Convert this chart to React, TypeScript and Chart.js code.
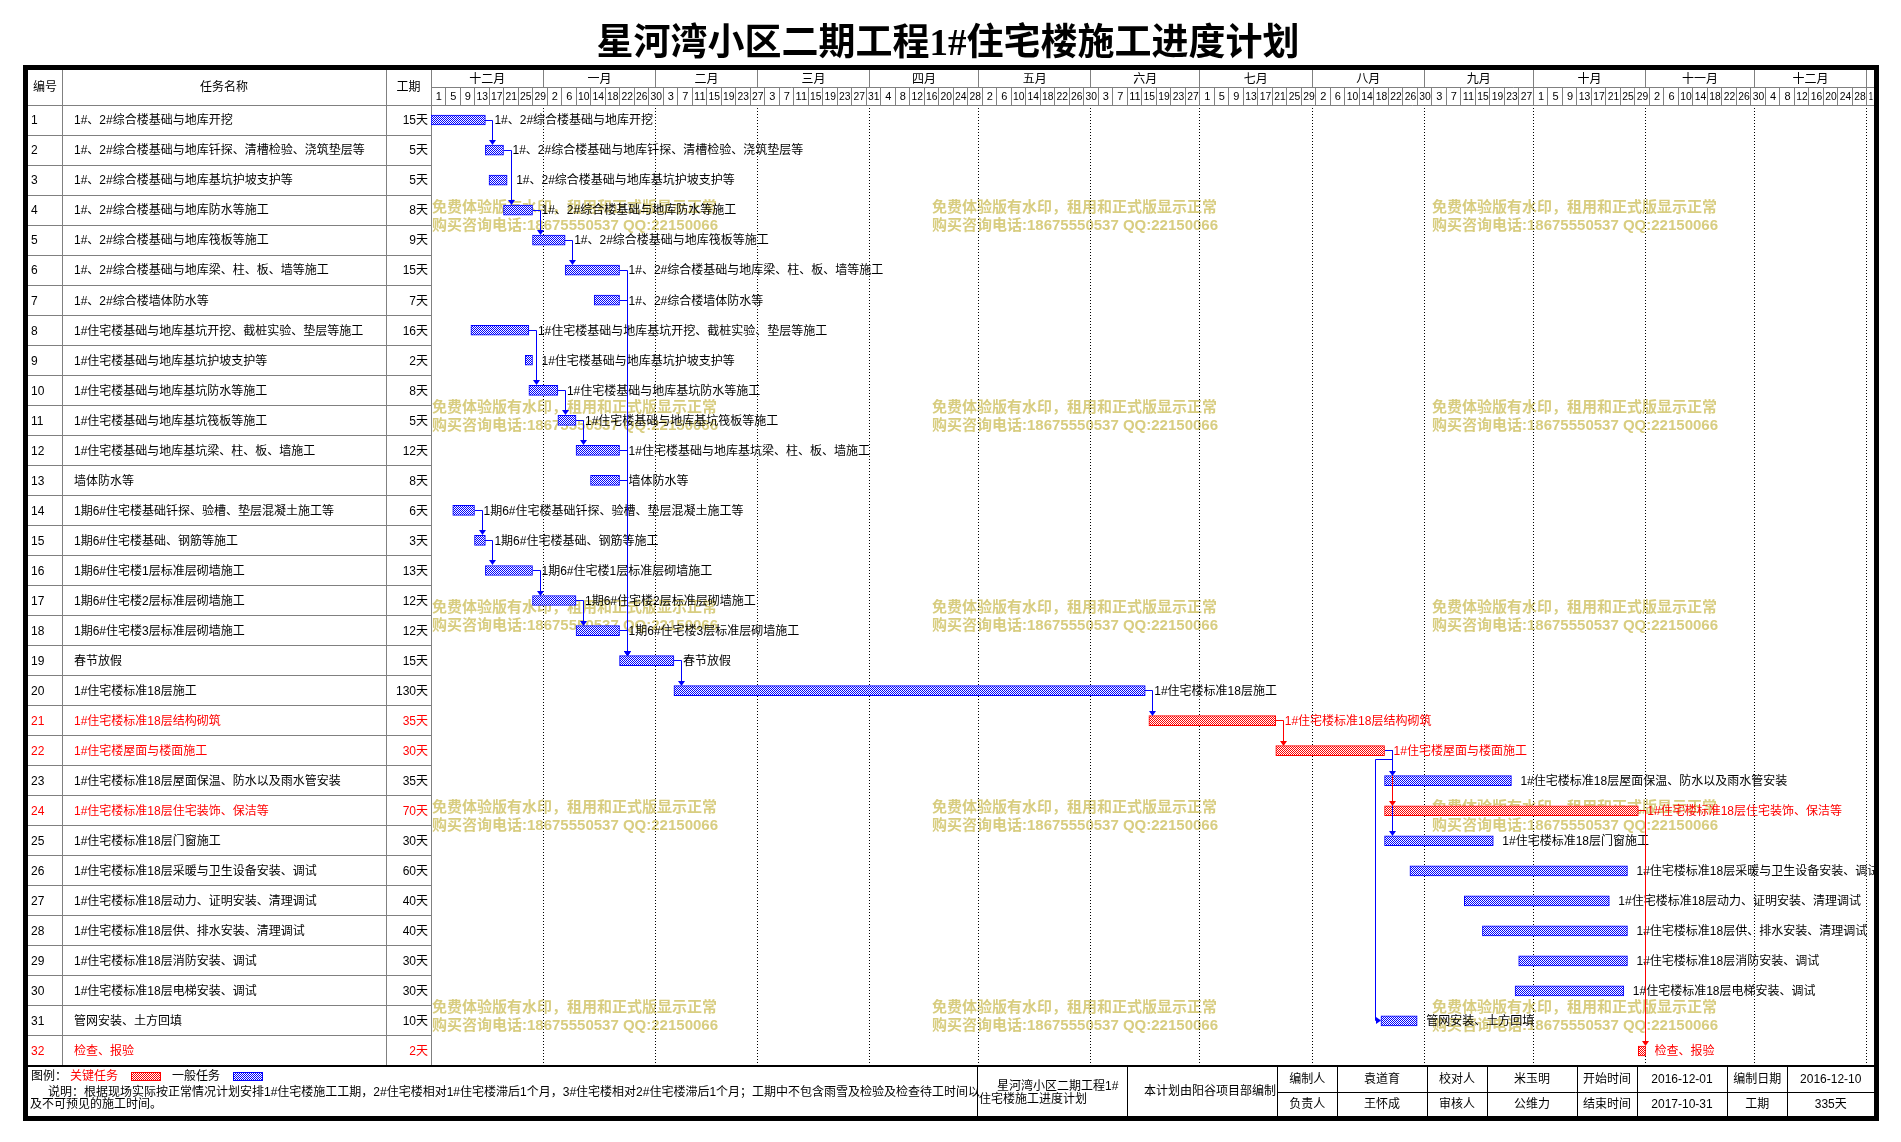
import { useEffect, useRef } from 'react';
import { Chart, registerables } from 'chart.js';

Chart.register(...registerables);

// ---------------- data ----------------
const titleText = '星河湾小区二期工程1#住宅楼施工进度计划';
const headerLabels = ['编号', '任务名称', '工期'];

const taskIds = ['1','2','3','4','5','6','7','8','9','10','11','12','13','14','15','16','17','18','19','20','21','22','23','24','25','26','27','28','29','30','31','32'];

const taskNames = [
  '1#、2#综合楼基础与地库开挖',
  '1#、2#综合楼基础与地库钎探、清槽检验、浇筑垫层等',
  '1#、2#综合楼基础与地库基坑护坡支护等',
  '1#、2#综合楼基础与地库防水等施工',
  '1#、2#综合楼基础与地库筏板等施工',
  '1#、2#综合楼基础与地库梁、柱、板、墙等施工',
  '1#、2#综合楼墙体防水等',
  '1#住宅楼基础与地库基坑开挖、截桩实验、垫层等施工',
  '1#住宅楼基础与地库基坑护坡支护等',
  '1#住宅楼基础与地库基坑防水等施工',
  '1#住宅楼基础与地库基坑筏板等施工',
  '1#住宅楼基础与地库基坑梁、柱、板、墙施工',
  '墙体防水等',
  '1期6#住宅楼基础钎探、验槽、垫层混凝土施工等',
  '1期6#住宅楼基础、钢筋等施工',
  '1期6#住宅楼1层标准层砌墙施工',
  '1期6#住宅楼2层标准层砌墙施工',
  '1期6#住宅楼3层标准层砌墙施工',
  '春节放假',
  '1#住宅楼标准18层施工',
  '1#住宅楼标准18层结构砌筑',
  '1#住宅楼屋面与楼面施工',
  '1#住宅楼标准18层屋面保温、防水以及雨水管安装',
  '1#住宅楼标准18层住宅装饰、保洁等',
  '1#住宅楼标准18层门窗施工',
  '1#住宅楼标准18层采暖与卫生设备安装、调试',
  '1#住宅楼标准18层动力、证明安装、清理调试',
  '1#住宅楼标准18层供、排水安装、清理调试',
  '1#住宅楼标准18层消防安装、调试',
  '1#住宅楼标准18层电梯安装、调试',
  '管网安装、土方回填',
  '检查、报验',
];

const durationLabels = ['15天','5天','5天','8天','9天','15天','7天','16天','2天','8天','5天','12天','8天','6天','3天','13天','12天','12天','15天','130天','35天','30天','35天','70天','30天','60天','40天','40天','30天','30天','10天','2天'];

// start day counted from 2016-12-01 (day 0)
const startDays = [0, 15, 16, 20, 28, 37, 45, 11, 26, 27, 35, 40, 44, 6, 12, 15, 28, 40, 52, 67, 198, 233, 263, 263, 263, 270, 285, 290, 300, 299, 262, 333];
const durationDays = [15, 5, 5, 8, 9, 15, 7, 16, 2, 8, 5, 12, 8, 6, 3, 13, 12, 12, 15, 130, 35, 30, 35, 70, 30, 60, 40, 40, 30, 30, 10, 2];
const criticalTaskIds = ['21', '22', '24', '32'];

const links: [string, string][] = [
  ['1', '2'], ['2', '4'], ['4', '5'], ['5', '6'], ['6', '19'], ['7', '19'], ['12', '19'], ['13', '19'], ['18', '19'],
  ['8', '10'], ['10', '11'], ['11', '12'], ['14', '15'], ['15', '16'], ['16', '17'], ['17', '18'],
  ['19', '20'], ['20', '21'], ['21', '22'], ['22', '23'], ['22', '24'], ['22', '25'], ['22', '31'], ['24', '32'],
];

const monthLabels = ['十二月', '一月', '二月', '三月', '四月', '五月', '六月', '七月', '八月', '九月', '十月', '十一月', '十二月', ''];
const monthStartDays = [0, 31, 62, 90, 121, 151, 182, 212, 243, 274, 304, 335, 365, 396];
const dayTickLabels = [
  '1','5','9','13','17','21','25','29',
  '2','6','10','14','18','22','26','30',
  '3','7','11','15','19','23','27',
  '3','7','11','15','19','23','27','31',
  '4','8','12','16','20','24','28',
  '2','6','10','14','18','22','26','30',
  '3','7','11','15','19','23','27',
  '1','5','9','13','17','21','25','29',
  '2','6','10','14','18','22','26','30',
  '3','7','11','15','19','23','27',
  '1','5','9','13','17','21','25','29',
  '2','6','10','14','18','22','26','30',
  '4','8','12','16','20','24','28',
  '1',
];
const dayTickStep = 4;
const axisMaxDay = 398;

const watermarkLines = ['免费体验版有水印，租用和正式版显示正常', '购买咨询电话:18675550537 QQ:22150066'];
const legendTexts = ['图例：', '关键任务', '一般任务'];
const noteLines = [
  '说明：根据现场实际按正常情况计划安排1#住宅楼施工工期，2#住宅楼相对1#住宅楼滞后1个月，3#住宅楼相对2#住宅楼滞后1个月；工期中不包含雨雪及检验及检查待工时间以',
  '及不可预见的施工时间。',
];
const footerTitleLines = ['星河湾小区二期工程1#', '住宅楼施工进度计划'];
const footerOrgText = '本计划由阳谷项目部编制';
const footerRow1 = ['编制人', '袁道育', '校对人', '米玉明', '开始时间', '2016-12-01', '编制日期', '2016-12-10'];
const footerRow2 = ['负责人', '王怀成', '审核人', '公维力', '结束时间', '2017-10-31', '工期', '335天'];

// ---------------- layout / style ----------------
const W = 1901;
const H = 1142;
const CJK = '"Noto Sans CJK SC"';
const TXT = `"Liberation Sans", ${CJK}, sans-serif`;
const NARROW = `"Liberation Sans Narrow", "Liberation Sans", ${CJK}, sans-serif`;
const BLUE = '#0000ff';
const RED = '#ff0000';
const GRID = '#808080';
const WM_COLOR = '#d8cd80';

const FRAME = { l: 28, t: 70, r: 1874, b: 1116 };
const COLS = { id: 28, name: 62, dur: 386, gantt: 431 };
const HEAD = { top: 70, mid: 87, bottom: 105 };
const FOOT = { top: 1066, mid: 1092, bottom: 1116 };
const FOOT_COLS = [977, 1127, 1277.5, 1337, 1427, 1487, 1577, 1637, 1727, 1787.5, 1874];
const WM_X = [432, 932, 1432];
const WM_Y = [208, 408, 608, 808, 1008];
const BAR_H = 10;

const isCritical = (id: string) => criticalTaskIds.includes(id);
const px = (v: number) => Math.floor(v) + 0.5;

function line(ctx: CanvasRenderingContext2D, x1: number, y1: number, x2: number, y2: number) {
  ctx.beginPath();
  ctx.moveTo(x1, y1);
  ctx.lineTo(x2, y2);
  ctx.stroke();
}

function makePattern(color: string): CanvasPattern {
  const c = document.createElement('canvas');
  c.width = 2;
  c.height = 2;
  const g = c.getContext('2d')!;
  g.fillStyle = '#ffffff';
  g.fillRect(0, 0, 2, 2);
  g.fillStyle = color;
  g.fillRect(0, 0, 1, 1);
  g.fillRect(1, 1, 1, 1);
  return g.createPattern(c, 'repeat')!;
}

function makePlugin(bluePat: CanvasPattern, redPat: CanvasPattern) {
  return {
    id: 'ganttDecor',
    beforeDraw(chart: any) {
      const ctx: CanvasRenderingContext2D = chart.ctx;
      ctx.save();
      ctx.fillStyle = '#ffffff';
      ctx.fillRect(0, 0, chart.width, chart.height);
      ctx.fillStyle = '#000';
      ctx.font = `bold 37px "Liberation Serif", ${CJK}, serif`;
      ctx.textAlign = 'center';
      ctx.textBaseline = 'middle';
      ctx.fillText(titleText, 948, 45);
      ctx.restore();
    },
    beforeDatasetsDraw(chart: any) {
      const ctx: CanvasRenderingContext2D = chart.ctx;
      const xs = chart.scales.x;
      const ys = chart.scales.y;
      const area = chart.chartArea;
      const rowH = (area.bottom - area.top) / taskIds.length;
      ctx.save();

      // watermark
      ctx.font = `bold 15px ${TXT}`;
      ctx.fillStyle = WM_COLOR;
      ctx.textAlign = 'left';
      ctx.textBaseline = 'middle';
      for (const wx of WM_X) {
        for (const wy of WM_Y) {
          ctx.fillText(watermarkLines[0], wx, wy);
          ctx.fillText(watermarkLines[1], wx, wy + 18);
        }
      }

      // dotted month lines
      ctx.strokeStyle = '#000';
      ctx.lineWidth = 1;
      ctx.setLineDash([1, 2]);
      for (let i = 1; i < monthStartDays.length; i++) {
        const x = px(xs.getPixelForValue(monthStartDays[i]));
        line(ctx, x, area.top, x, area.bottom);
      }
      ctx.setLineDash([]);

      // table grid
      ctx.strokeStyle = GRID;
      for (let i = 0; i < taskIds.length; i++) {
        const yb = px(ys.getPixelForValue(i) + rowH / 2);
        line(ctx, COLS.id, yb, COLS.gantt, yb);
      }
      for (const cx of [COLS.name, COLS.dur, COLS.gantt]) {
        const x = px(cx);
        line(ctx, x, HEAD.top, x, FOOT.top);
      }
      line(ctx, COLS.id, px(HEAD.bottom), area.right, px(HEAD.bottom));
      line(ctx, COLS.gantt, px(HEAD.mid), area.right, px(HEAD.mid));

      // month row
      ctx.fillStyle = '#000';
      ctx.textAlign = 'center';
      ctx.textBaseline = 'middle';
      ctx.font = `12px ${TXT}`;
      for (let i = 0; i < monthStartDays.length; i++) {
        const a = xs.getPixelForValue(monthStartDays[i]);
        const endDay = i + 1 < monthStartDays.length ? monthStartDays[i + 1] : axisMaxDay;
        const b = xs.getPixelForValue(Math.min(endDay, axisMaxDay));
        if (i > 0) line(ctx, px(a), HEAD.top, px(a), HEAD.mid);
        if (monthLabels[i]) ctx.fillText(monthLabels[i], (a + b) / 2, (HEAD.top + HEAD.mid) / 2 + 1);
      }

      // day row
      ctx.font = `11px ${NARROW}`;
      for (let i = 0; i < dayTickLabels.length; i++) {
        const d0 = i * dayTickStep;
        const d1 = Math.min(d0 + dayTickStep, axisMaxDay);
        const a = xs.getPixelForValue(d0);
        const b = xs.getPixelForValue(d1);
        if (i > 0) line(ctx, px(a), HEAD.mid, px(a), HEAD.bottom);
        ctx.fillText(dayTickLabels[i], (a + b) / 2 + 0.5, (HEAD.mid + HEAD.bottom) / 2 + 1, Math.max(4, b - a - 3));
      }

      // left header labels
      ctx.font = `12px ${TXT}`;
      const hy = (HEAD.top + HEAD.bottom) / 2;
      ctx.fillText(headerLabels[0], (COLS.id + COLS.name) / 2, hy);
      ctx.fillText(headerLabels[1], (COLS.name + COLS.dur) / 2, hy);
      ctx.fillText(headerLabels[2], (COLS.dur + COLS.gantt) / 2, hy);

      // table rows text
      for (let i = 0; i < taskIds.length; i++) {
        const y = ys.getPixelForValue(i) + 1;
        ctx.fillStyle = isCritical(taskIds[i]) ? RED : '#000';
        ctx.textAlign = 'left';
        ctx.fillText(taskIds[i], COLS.id + 3, y);
        ctx.fillText(taskNames[i], COLS.name + 12, y);
        ctx.textAlign = 'right';
        ctx.fillText(durationLabels[i], COLS.gantt - 3, y);
      }
      ctx.restore();
    },
    afterDatasetsDraw(chart: any) {
      const ctx: CanvasRenderingContext2D = chart.ctx;
      const xs = chart.scales.x;
      const ys = chart.scales.y;
      const area = chart.chartArea;
      ctx.save();
      ctx.beginPath();
      ctx.rect(area.left, area.top, area.right - area.left, area.bottom - area.top);
      ctx.clip();

      // bar labels
      ctx.font = `12px ${TXT}`;
      ctx.textAlign = 'left';
      ctx.textBaseline = 'middle';
      for (let i = 0; i < taskIds.length; i++) {
        const xe = xs.getPixelForValue(startDays[i] + durationDays[i]);
        ctx.fillStyle = isCritical(taskIds[i]) ? RED : '#000';
        ctx.fillText(taskNames[i], xe + 9, ys.getPixelForValue(i) + 1);
      }

      // connectors (drawn by successor from bottom to top)
      const sorted = [...links].sort((a, b) => taskIds.indexOf(b[1]) - taskIds.indexOf(a[1]));
      ctx.lineWidth = 1;
      for (const [from, to] of sorted) {
        const p = taskIds.indexOf(from);
        const s = taskIds.indexOf(to);
        const color = isCritical(from) && isCritical(to) ? RED : BLUE;
        ctx.strokeStyle = color;
        ctx.fillStyle = color;
        const xe = Math.round(xs.getPixelForValue(startDays[p] + durationDays[p]));
        const xsS = Math.round(xs.getPixelForValue(startDays[s]));
        const yp = px(ys.getPixelForValue(p));
        const ysC = px(ys.getPixelForValue(s));
        const vx = px(xe + 7);
        if (xsS >= xe - 1) {
          const yTop = Math.round(ys.getPixelForValue(s) - BAR_H / 2);
          ctx.beginPath();
          ctx.moveTo(xe, yp);
          ctx.lineTo(vx, yp);
          ctx.lineTo(vx, yTop - 4);
          ctx.stroke();
          ctx.beginPath();
          ctx.moveTo(vx - 3.5, yTop - 5);
          ctx.lineTo(vx + 3.5, yTop - 5);
          ctx.lineTo(vx, yTop);
          ctx.closePath();
          ctx.fill();
        } else {
          const yMid = px(ys.getPixelForValue(p) + 9);
          const lx = px(xsS - 6);
          ctx.beginPath();
          ctx.moveTo(xe, yp);
          ctx.lineTo(vx, yp);
          ctx.lineTo(vx, yMid);
          ctx.lineTo(lx, yMid);
          ctx.lineTo(lx, ysC);
          ctx.lineTo(xsS - 4, ysC);
          ctx.stroke();
          ctx.beginPath();
          ctx.moveTo(xsS - 5, ysC - 3.5);
          ctx.lineTo(xsS - 5, ysC + 3.5);
          ctx.lineTo(xsS, ysC);
          ctx.closePath();
          ctx.fill();
        }
      }
      ctx.restore();
    },
    afterDraw(chart: any) {
      const ctx: CanvasRenderingContext2D = chart.ctx;
      ctx.save();
      ctx.textBaseline = 'middle';

      // footer grid
      ctx.strokeStyle = '#000';
      ctx.lineWidth = 2;
      line(ctx, FRAME.l, FOOT.top, FRAME.r, FOOT.top);
      ctx.lineWidth = 1;
      for (let i = 0; i < FOOT_COLS.length - 1; i++) {
        const x = px(FOOT_COLS[i]);
        line(ctx, x, FOOT.top, x, FOOT.bottom);
      }
      line(ctx, FOOT_COLS[2], px(FOOT.mid), FRAME.r, px(FOOT.mid));

      // legend
      ctx.font = `12px ${TXT}`;
      ctx.textAlign = 'left';
      ctx.fillStyle = '#000';
      ctx.fillText(legendTexts[0], 31, 1077);
      ctx.fillStyle = RED;
      ctx.fillText(legendTexts[1], 70, 1077);
      ctx.fillStyle = redPat;
      ctx.fillRect(131, 1072, 30, 9);
      ctx.strokeStyle = RED;
      ctx.strokeRect(131.5, 1072.5, 29, 8);
      ctx.fillStyle = '#000';
      ctx.fillText(legendTexts[2], 172, 1077);
      ctx.fillStyle = bluePat;
      ctx.fillRect(233, 1072, 30, 9);
      ctx.strokeStyle = BLUE;
      ctx.strokeRect(233.5, 1072.5, 29, 8);

      // notes
      ctx.fillStyle = '#000';
      ctx.font = `12px ${TXT}`;
      ctx.fillText(noteLines[0], 48, 1093);
      ctx.fillText(noteLines[1], 30, 1105);

      ctx.fillText(footerTitleLines[0], 997, 1087);
      ctx.fillText(footerTitleLines[1], 979, 1100);
      ctx.textAlign = 'right';
      ctx.fillText(footerOrgText, 1276, 1092);

      ctx.textAlign = 'center';
      for (let i = 0; i < footerRow1.length; i++) {
        const cx = (FOOT_COLS[i + 2] + FOOT_COLS[i + 3]) / 2;
        ctx.fillText(footerRow1[i], cx, (FOOT.top + FOOT.mid) / 2 + 1);
        ctx.fillText(footerRow2[i], cx, (FOOT.mid + FOOT.bottom) / 2 + 1);
      }

      // thick frame
      ctx.strokeStyle = '#000';
      ctx.lineWidth = 5;
      ctx.strokeRect(FRAME.l - 2.5, FRAME.t - 2.5, FRAME.r - FRAME.l + 5, FRAME.b - FRAME.t + 5);
      ctx.restore();
    },
  };
}

export default function App() {
  const ref = useRef<HTMLCanvasElement>(null);

  useEffect(() => {
    document.body.style.margin = '0';
    document.body.style.overflow = 'hidden';
    const bluePat = makePattern(BLUE);
    const redPat = makePattern(RED);
    const chart = new Chart(ref.current!, {
      type: 'bar',
      data: {
        labels: taskIds,
        datasets: [
          {
            data: startDays.map((s, i) => [s, s + durationDays[i]]) as any,
            backgroundColor: taskIds.map((id) => (isCritical(id) ? redPat : bluePat)) as any,
            borderColor: taskIds.map((id) => (isCritical(id) ? RED : BLUE)),
            borderWidth: 1,
            borderSkipped: false,
            barThickness: BAR_H,
          },
        ],
      },
      options: {
        indexAxis: 'y',
        animation: false,
        responsive: false,
        devicePixelRatio: 1,
        layout: {
          padding: { left: COLS.gantt, right: W - FRAME.r, top: HEAD.bottom, bottom: H - FOOT.top },
        },
        scales: {
          x: { type: 'linear', min: 0, max: axisMaxDay, display: false },
          y: { type: 'category', offset: true, display: false },
        },
        plugins: {
          legend: { display: false },
          tooltip: { enabled: false },
        },
      },
      plugins: [makePlugin(bluePat, redPat)],
    });
    return () => chart.destroy();
  }, []);

  return (
    <div style={{ width: W, height: H }}>
      <canvas ref={ref} width={W} height={H} style={{ display: 'block' }} />
    </div>
  );
}
